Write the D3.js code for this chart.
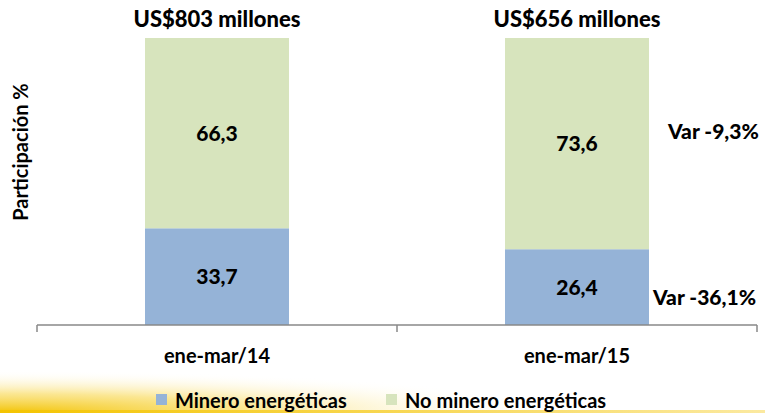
<!DOCTYPE html>
<html>
<head>
<meta charset="utf-8">
<script src="https://cdn.jsdelivr.net/npm/d3@7"></script>
<style>
  body { margin: 0; background: #fff; }
  svg { display: block; font-family: Lato, "Open Sans", sans-serif; font-weight: bold; }
</style>
</head>
<body>
<svg width="765" height="413"></svg>
<script>
const categories = ["ene-mar/14", "ene-mar/15"];
const totals = ["US$803 millones", "US$656 millones"];
const minero = [33.7, 26.4];
const noMinero = [66.3, 73.6];
const variations = ["Var -36,1%", "Var -9,3%"]; // minero, no minero (2015 only)
const seriesNames = ["Minero energéticas", "No minero energéticas"];
const colors = ["#95b3d7", "#d7e4bd"];

const width = 765, height = 413;
const svg = d3.select("svg");

// yellow glow at the bottom
const defs = svg.append("defs");
const rg = defs.append("radialGradient").attr("id", "glow")
    .attr("cx", 0).attr("cy", 1).attr("r", 1);
rg.append("stop").attr("offset", "0%").attr("stop-color", "#f2c200").attr("stop-opacity", 1);
rg.append("stop").attr("offset", "45%").attr("stop-color", "#f8d64a").attr("stop-opacity", 0.6);
rg.append("stop").attr("offset", "100%").attr("stop-color", "#fff").attr("stop-opacity", 0);
svg.append("rect")
    .attr("x", 0).attr("y", 370).attr("width", 560).attr("height", 43)
    .attr("fill", "url(#glow)");
const lg = defs.append("linearGradient").attr("id", "band");
lg.append("stop").attr("offset", "0%").attr("stop-color", "#f4c400");
lg.append("stop").attr("offset", "100%").attr("stop-color", "#fbe9a0");
svg.append("rect")
    .attr("x", 0).attr("y", 410).attr("width", width).attr("height", 3)
    .attr("fill", "url(#band)");

const x = d3.scaleBand().domain(categories).range([37, 757]);
const y = d3.scaleLinear().domain([0, 100]).range([325, 38]);
const barW = x.bandwidth() * 0.4;

const stackData = categories.map((c, i) => ({ cat: c, minero: minero[i], noMinero: noMinero[i] }));
const stack = d3.stack().keys(["minero", "noMinero"])(stackData);

const layers = svg.append("g").selectAll("g")
  .data(stack).join("g")
    .attr("fill", (d, i) => colors[i]);

layers.selectAll("rect")
  .data(d => d).join("rect")
    .attr("x", d => x(d.data.cat) + x.bandwidth() / 2 - barW / 2)
    .attr("width", barW)
    .attr("y", d => y(d[1]))
    .attr("height", d => y(d[0]) - y(d[1]));

layers.selectAll("text")
  .data(d => d).join("text")
    .attr("x", d => x(d.data.cat) + x.bandwidth() / 2)
    .attr("y", d => (y(d[0]) + y(d[1])) / 2)
    .attr("dy", "0.36em")
    .attr("text-anchor", "middle")
    .attr("fill", "#000")
    .attr("font-size", 21)
    .attr("font-weight", 900)
    .text(d => (d[1] - d[0]).toFixed(1).replace(".", ","));

// axis
const axis = svg.append("g").attr("transform", "translate(0,325)")
    .call(d3.axisBottom(x).tickSize(0).tickFormat(""));
axis.select(".domain").attr("stroke", "#888").attr("stroke-width", 1.5)
    .attr("d", "M37,0H757");
axis.selectAll(".tick").remove();
axis.selectAll(".sep")
  .data(x.domain().map(c => x(c)).concat([x.range()[1]]))
  .join("line")
    .attr("x1", d => d).attr("x2", d => d)
    .attr("y1", 0).attr("y2", 7)
    .attr("stroke", "#888").attr("stroke-width", 1.5);

svg.append("g").selectAll("text")
  .data(categories).join("text")
    .attr("x", d => x(d) + x.bandwidth() / 2)
    .attr("y", 363)
    .attr("text-anchor", "middle")
    .attr("font-size", 20)
    .text(d => d);

// totals above bars
svg.append("g").selectAll("text")
  .data(totals).join("text")
    .attr("x", (d, i) => x(categories[i]) + x.bandwidth() / 2)
    .attr("y", 27)
    .attr("text-anchor", "middle")
    .attr("font-size", 22)
    .attr("font-weight", 900)
    .text(d => d);

// variation labels
svg.append("g").selectAll("text")
  .data(variations).join("text")
    .attr("x", (d, i) => [653, 668][i])
    .attr("y", (d, i) => [305, 139][i])
    .attr("font-size", 21)
    .attr("font-weight", 900)
    .text(d => d);

// y title
svg.append("text")
    .attr("transform", "translate(28,152) rotate(-90)")
    .attr("text-anchor", "middle")
    .attr("font-size", 20)
    .text("Participación %");

// legend
const legend = svg.append("g");
const legX = [156, 386];
seriesNames.forEach((n, i) => {
  legend.append("rect").attr("x", legX[i]).attr("y", 394).attr("width", 11).attr("height", 11).attr("fill", colors[i]);
  legend.append("text").attr("x", legX[i] + 19).attr("y", 408).attr("font-size", 20).text(n);
});
</script>
</body>
</html>
